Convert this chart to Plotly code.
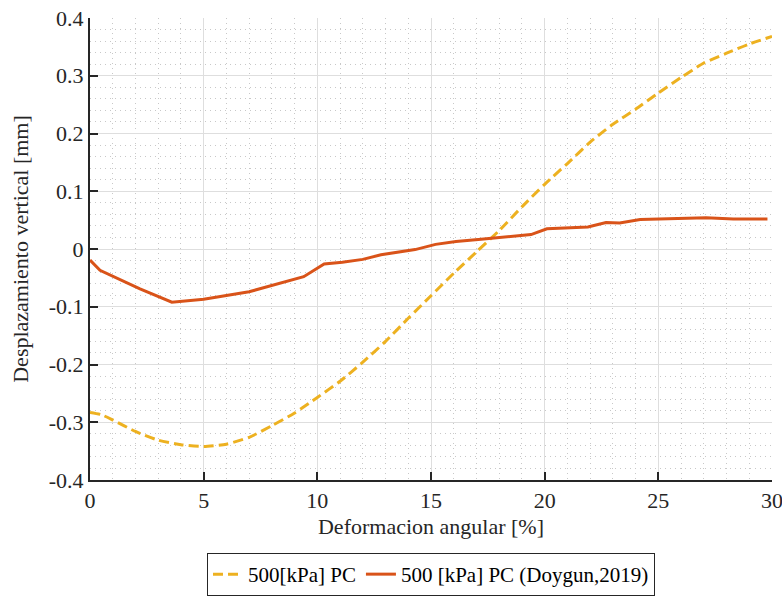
import plotly.graph_objects as go

# Ensayo de corte: desplazamiento vertical frente a deformacion angular
def_pc = [0, 0.5, 1, 2, 3, 4, 5, 6, 7, 8, 9, 10, 11, 12, 13, 14, 15, 16,
          17, 18, 19, 20, 21, 22, 23, 24, 25, 26, 27, 28, 29, 30]
desp_pc = [-0.283, -0.287, -0.296, -0.316, -0.331, -0.339, -0.342, -0.338,
           -0.326, -0.306, -0.284, -0.257, -0.229, -0.196, -0.160, -0.120,
           -0.081, -0.042, -0.005, 0.032, 0.073, 0.112, 0.148, 0.185, 0.216,
           0.242, 0.270, 0.297, 0.322, 0.339, 0.355, 0.368]

def_doy = [0, 0.44, 2.2, 3.6, 5, 7, 9.4, 10.3, 11.1, 12.0, 12.8, 13.5, 14.3,
           15.2, 16.1, 17.2, 18.0, 19.4, 20.1, 21.0, 21.9, 22.7, 23.3, 24.2,
           25.4, 27.1, 28.3, 29.8]
desp_doy = [-0.019, -0.037, -0.069, -0.092, -0.087, -0.074, -0.048, -0.026,
            -0.023, -0.018, -0.010, -0.006, -0.001, 0.008, 0.013, 0.017,
            0.020, 0.025, 0.035, 0.036, 0.038, 0.046, 0.045, 0.051, 0.052,
            0.054, 0.052, 0.052]

x_ticks = [0, 5, 10, 15, 20, 25, 30]
y_ticks = [-0.4, -0.3, -0.2, -0.1, 0, 0.1, 0.2, 0.3, 0.4]
y_tick_text = ["-0.4", "-0.3", "-0.2", "-0.1", "0", "0.1", "0.2", "0.3", "0.4"]

FONT = "Liberation Serif"
INK = "#262626"

fig = go.Figure()
fig.add_trace(go.Scatter(
    x=def_pc, y=desp_pc, mode="lines", name="500[kPa] PC",
    line=dict(color="#EDB120", width=3, dash="10px,5px", shape="spline", smoothing=0.6),
))
fig.add_trace(go.Scatter(
    x=def_doy, y=desp_doy, mode="lines", name="500 [kPa] PC (Doygun,2019)",
    line=dict(color="#D95319", width=3),
))

axis_common = dict(
    showgrid=True, gridcolor="#dedede", gridwidth=1,
    showline=True, linecolor=INK, linewidth=2,
    ticks="inside", ticklen=8, tickwidth=2, tickcolor=INK,
    zeroline=False, mirror=False, ticklabeloverflow="allow",
    tickfont=dict(family=FONT, size=22, color=INK),
)

fig.update_xaxes(
    range=[0, 30], tickvals=x_ticks,
    title=dict(text="Deformacion angular [%]", font=dict(family=FONT, size=22, color=INK), standoff=6),
    minor=dict(dtick=1, showgrid=True, griddash="1px,4px", gridcolor="#c8c8c8", gridwidth=1),
    **axis_common,
)
fig.update_yaxes(
    range=[-0.4, 0.4], tickvals=y_ticks, ticktext=y_tick_text,
    title=dict(text="Desplazamiento vertical [mm]", font=dict(family=FONT, size=22, color=INK), standoff=14),
    minor=dict(dtick=0.02, tick0=0, showgrid=True, griddash="1px,4px", gridcolor="#c8c8c8", gridwidth=1),
    **axis_common,
)

fig.update_layout(
    width=782, height=596,
    margin=dict(l=90, r=10, t=18, b=116, autoexpand=False),
    plot_bgcolor="white", paper_bgcolor="white",
    showlegend=True,
    legend=dict(
        orientation="h", x=0.5, xanchor="center", y=-0.158, yanchor="top",
        bordercolor=INK, borderwidth=1, bgcolor="white",
        font=dict(family=FONT, size=21, color="#000000"),
        tracegroupgap=0, entrywidth=0,
    ),
)

fig.write_html("out.html")
